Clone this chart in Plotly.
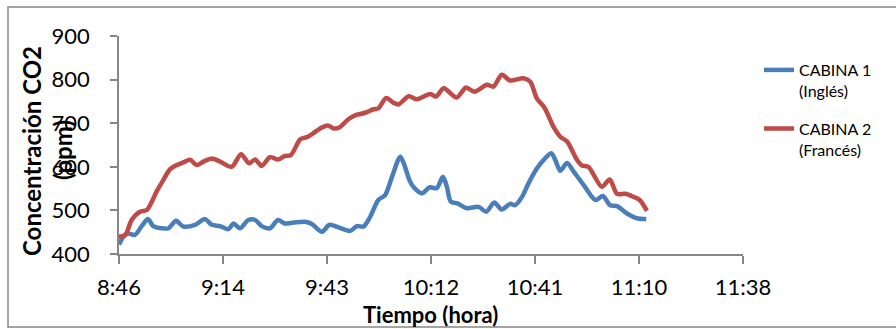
import plotly.graph_objects as go

# Time in minutes after midnight, CO2 ppm
cab1_time = [525.6, 527.7, 530.0, 531.9, 533.6, 535.1, 537.4, 539.3, 541.4, 543.4,
             546.7, 549.4, 551.3, 553.6, 555.9, 557.3, 559.1, 561.4, 563.3, 565.1,
             567.4, 569.6, 571.6, 573.9, 577.1, 579.0, 581.8, 583.9, 586.4, 589.6,
             591.5, 593.3, 595.2, 597.4, 599.3, 601.2, 603.5, 604.8, 606.0, 607.1,
             609.5, 611.6, 613.6, 615.3, 616.4, 617.5, 619.3, 621.9, 625.2, 627.3,
             629.5, 631.6, 633.9, 635.3, 637.2, 639.0, 641.3, 643.2, 645.3, 646.4,
             647.8, 649.7, 651.5, 654.3, 657.5, 659.6, 661.6, 663.5, 666.3, 669.0,
             671.6]
cab1_ppm = [422, 447, 444, 464, 480, 464, 459, 459, 476, 463,
            467, 480, 467, 464, 457, 470, 459, 478, 478, 464,
            459, 478, 470, 472, 474, 469, 451, 467, 461, 453,
            464, 463, 486, 524, 535, 577, 623, 600, 570, 554,
            539, 553, 551, 577, 554, 520, 516, 505, 508, 497,
            518, 502, 515, 512, 531, 562, 596, 616, 631, 616,
            591, 609, 589, 558, 524, 533, 512, 510, 493, 482,
            480]

cab2_time = [525.6, 527.3, 529.1, 531.4, 533.3, 534.7, 536.0, 537.9, 539.7, 541.6,
             543.4, 545.3, 547.1, 549.0, 551.3, 553.6, 556.8, 559.4, 561.6, 563.3,
             565.1, 567.4, 569.7, 571.6, 573.2, 575.8, 577.6, 579.4, 581.3, 583.4,
             585.0, 586.6, 589.1, 591.3, 593.8, 596.1, 597.4, 599.6, 601.6, 603.0,
             605.8, 608.1, 611.8, 613.4, 615.5, 619.1, 621.7, 624.0, 627.5, 629.3,
             631.6, 633.9, 637.6, 639.5, 641.3, 643.4, 645.9, 647.8, 649.7, 652.4,
             653.8, 655.6, 659.3, 661.5, 663.5, 665.8, 668.1, 669.8, 671.8]
cab2_ppm = [440, 443, 478, 497, 501, 520, 543, 570, 594, 604,
            610, 616, 604, 612, 619, 612, 600, 629, 608, 617,
            602, 622, 617, 625, 627, 663, 668, 677, 688, 695,
            688, 690, 709, 719, 724, 732, 734, 758, 747, 743,
            762, 755, 767, 761, 780, 759, 782, 772, 788, 784,
            811, 798, 803, 795, 757, 736, 692, 669, 658, 616,
            603, 600, 554, 571, 538, 538, 531, 524, 499]

series_names = ["CABINA 1<br>(Inglés)", "CABINA 2<br>(Francés)"]
x_tick_minutes = [525.6, 554.4, 583.2, 612.0, 640.8, 669.6, 698.4]
x_tick_labels = ["8:46", "9:14", "9:43", "10:12", "10:41", "11:10", "11:38"]
y_ticks = [400, 500, 600, 700, 800, 900]

FONT = "Lato"
AXIS_COLOR = "#868686"

fig = go.Figure()
fig.add_trace(go.Scatter(x=cab1_time, y=cab1_ppm, mode="lines", name=series_names[0],
                         legendgroup="c1",
                         line=dict(color="#4A7EBB", width=4.5, shape="spline", smoothing=0.8)))
fig.add_trace(go.Scatter(x=cab2_time, y=cab2_ppm, mode="lines", name=series_names[1],
                         legendgroup="c2",
                         line=dict(color="#BE4B48", width=4.5, shape="spline", smoothing=0.8)))

L, R, T, B = 119, 153, 36, 75
W, H = 896, 329
pw, ph = W - L - R, H - T - B

def px_x(p):
    return (p - L) / pw

def px_y(p):
    return (H - B - p) / ph

fig.update_layout(
    width=W, height=H,
    margin=dict(l=L, r=R, t=T, b=B, pad=0),
    paper_bgcolor="white", plot_bgcolor="white",
    font=dict(family=FONT, color="black"),
    showlegend=True,
    legend=dict(x=px_x(759), y=px_y(53), xanchor="left", yanchor="top",
                font=dict(family=FONT, size=16, color="black"),
                valign="top", traceorder="grouped", tracegroupgap=14,
                bgcolor="rgba(0,0,0,0)"),
    xaxis=dict(range=[525.6, 698.4], tickmode="array", tickvals=x_tick_minutes,
               ticktext=x_tick_labels, showgrid=False, zeroline=False,
               showline=True, linecolor=AXIS_COLOR, linewidth=1.5,
               ticks="outside", ticklen=8, tickcolor=AXIS_COLOR, tickwidth=1.5,
               tickfont=dict(family=FONT, size=22, color="black"),
               ticklabelstandoff=5),
    yaxis=dict(range=[400, 900], tickmode="array", tickvals=y_ticks,
               showgrid=False, zeroline=False,
               showline=True, linecolor=AXIS_COLOR, linewidth=1.5,
               ticks="outside", ticklen=7, tickcolor=AXIS_COLOR, tickwidth=1.5,
               tickfont=dict(family=FONT, size=22, color="black"),
               ticklabelstandoff=16),
    shapes=[dict(type="rect", xref="paper", yref="paper",
                 x0=px_x(8), x1=px_x(W + 20), y0=px_y(327), y1=px_y(7),
                 line=dict(color=AXIS_COLOR, width=1.5), layer="below")],
    annotations=[
        dict(text="<b>Concentración CO2</b>", xref="paper", yref="paper",
             x=px_x(31), y=px_y(151), xanchor="center", yanchor="middle",
             textangle=-90, showarrow=False,
             font=dict(family=FONT, size=24, color="black")),
        dict(text="<b>(ppm)</b>", xref="paper", yref="paper",
             x=px_x(62), y=px_y(150), xanchor="center", yanchor="middle",
             textangle=-90, showarrow=False,
             font=dict(family=FONT, size=24, color="black")),
        dict(text="<b>Tiempo (hora)</b>", xref="paper", yref="paper",
             x=px_x(430), y=px_y(314), xanchor="center", yanchor="middle",
             showarrow=False, font=dict(family=FONT, size=22, color="black")),
    ],
)

fig.write_html("out.html")
